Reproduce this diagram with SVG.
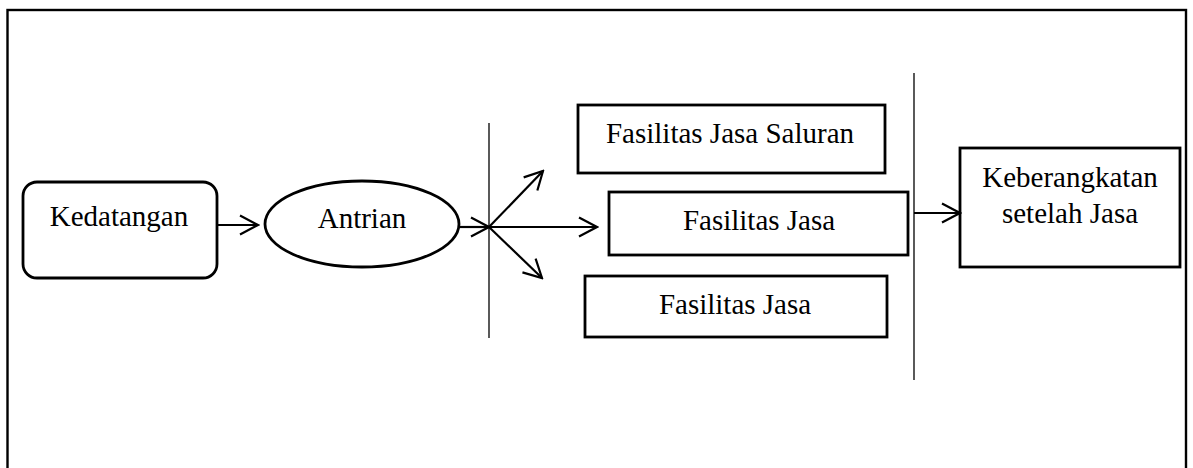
<svg xmlns="http://www.w3.org/2000/svg" width="1193" height="468" viewBox="0 0 1193 468">
<style>
.box{fill:#fff;stroke:#000;stroke-width:2.8}
.sep{stroke:#000;stroke-width:1.3}
.con{stroke:#000;stroke-width:2.2;fill:none}
.t{font-size:29px;fill:#000;text-anchor:middle}
</style>
<defs>
<marker id="ah" viewBox="-20 -12 22 24" markerWidth="22" markerHeight="24" markerUnits="userSpaceOnUse" refX="0" refY="0" orient="auto">
<path d="M-18,-9.5 L0,0 L-18,9.5" fill="none" stroke="#000" stroke-width="2.2"/>
</marker>
</defs>
<rect x="0" y="0" width="1193" height="468" fill="#fff"/>
<rect x="7.5" y="10" width="1178.5" height="480" fill="none" stroke="#000" stroke-width="2.4"/>
<g id="separators">
<line class="sep" x1="489" y1="123" x2="489" y2="338"/>
<line class="sep" x1="914" y1="73" x2="914" y2="380"/>
</g>
<g font-family="Liberation Serif, serif">
<g id="kedatangan">
<rect class="box" x="23" y="182" width="194" height="96" rx="14"/>
<text class="t" x="119" y="226">Kedatangan</text>
</g>
<g id="antrian">
<ellipse class="box" cx="362" cy="224" rx="97" ry="43"/>
<text class="t" x="362" y="228">Antrian</text>
</g>
<g id="fasilitas1">
<rect class="box" x="578" y="105" width="307" height="68"/>
<text class="t" x="730" y="143">Fasilitas Jasa Saluran</text>
</g>
<g id="fasilitas2">
<rect class="box" x="609" y="192" width="299" height="63"/>
<text class="t" x="759" y="230">Fasilitas Jasa</text>
</g>
<g id="fasilitas3">
<rect class="box" x="585" y="276" width="302" height="61"/>
<text class="t" x="735" y="314">Fasilitas Jasa</text>
</g>
<g id="keberangkatan">
<rect class="box" x="960" y="148" width="220" height="119"/>
<text class="t" x="1070" y="187">Keberangkatan</text>
<text class="t" x="1070" y="223">setelah Jasa</text>
</g>
</g>
<g id="connectors">
<line class="con" x1="217" y1="225" x2="258" y2="225" marker-end="url(#ah)"/>
<line class="con" x1="460" y1="227" x2="489" y2="227" marker-end="url(#ah)"/>
<line class="con" x1="489" y1="227" x2="543" y2="171" marker-end="url(#ah)"/>
<line class="con" x1="489" y1="227" x2="597" y2="227" marker-end="url(#ah)"/>
<line class="con" x1="489" y1="227" x2="542" y2="278" marker-end="url(#ah)"/>
<line class="con" x1="914" y1="213" x2="960" y2="213" marker-end="url(#ah)"/>
</g>
</svg>
